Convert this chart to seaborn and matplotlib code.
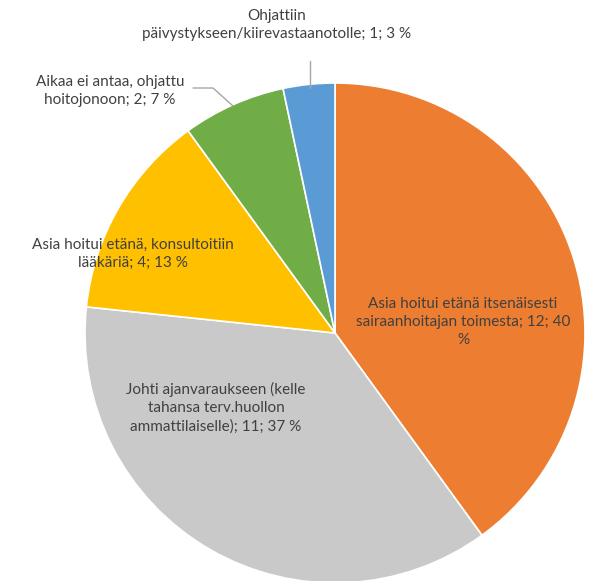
import matplotlib
matplotlib.use("Agg")
import matplotlib.pyplot as plt
import seaborn as sns

sns.set_theme(style="white")
plt.rcParams["font.family"] = ["Lato", "DejaVu Sans"]

categories = [
    "Asia hoitui etänä itsenäisesti\nsairaanhoitajan toimesta",
    "Johti ajanvaraukseen (kelle\ntahansa terv.huollon\nammattilaiselle)",
    "Asia hoitui etänä, konsultoitiin\nlääkäriä",
    "Aikaa ei antaa, ohjattu\nhoitojonoon",
    "Ohjattiin\npäivystykseen/kiirevastaanotolle",
]
counts = [12, 11, 4, 2, 1]
percents = [40, 37, 13, 7, 3]
label_texts = [
    "Asia hoitui etänä itsenäisesti\nsairaanhoitajan toimesta; 12; 40\n%",
    "Johti ajanvaraukseen (kelle\ntahansa terv.huollon\nammattilaiselle); 11; 37 %",
    "Asia hoitui etänä, konsultoitiin\nlääkäriä; 4; 13 %",
    "Aikaa ei antaa, ohjattu\nhoitojonoon; 2; 7 %",
    "Ohjattiin\npäivystykseen/kiirevastaanotolle; 1; 3 %",
]
colors = ["#ED7D31", "#C9C9C9", "#FFC000", "#70AD47", "#5B9BD5"]

W, H = 594, 581
fig = plt.figure(figsize=(W / 100, H / 100), dpi=100)
ax = fig.add_axes([0, 0, 1, 1])

cx, cy, r = 335, H - 333, 250
ax.pie(counts, colors=colors, startangle=90, counterclock=False,
       center=(cx, cy), radius=r,
       wedgeprops=dict(edgecolor="white", linewidth=1.2))
ax.set_xlim(0, W)
ax.set_ylim(0, H)
ax.set_aspect("equal")
ax.axis("off")

# label anchor positions (pixel coords, top-origin) of each text block centre
label_pos = [(463, 322), (216, 408), (133, 254), (110, 91), (277, 25)]
for txt, (x, y) in zip(label_texts, label_pos):
    ax.text(x, H - y, txt, ha="center", va="center", fontsize=11,
            color="#404040", linespacing=1.4)

# leader lines for the small outer slices
line_col = "#A6A6A6"
ax.plot([310, 310], [H - 61, H - 88], color=line_col, lw=1)
ax.plot([193, 213, 233], [H - 88, H - 88, H - 106], color=line_col, lw=1)

fig.savefig("out.png", dpi=100, facecolor="white")
